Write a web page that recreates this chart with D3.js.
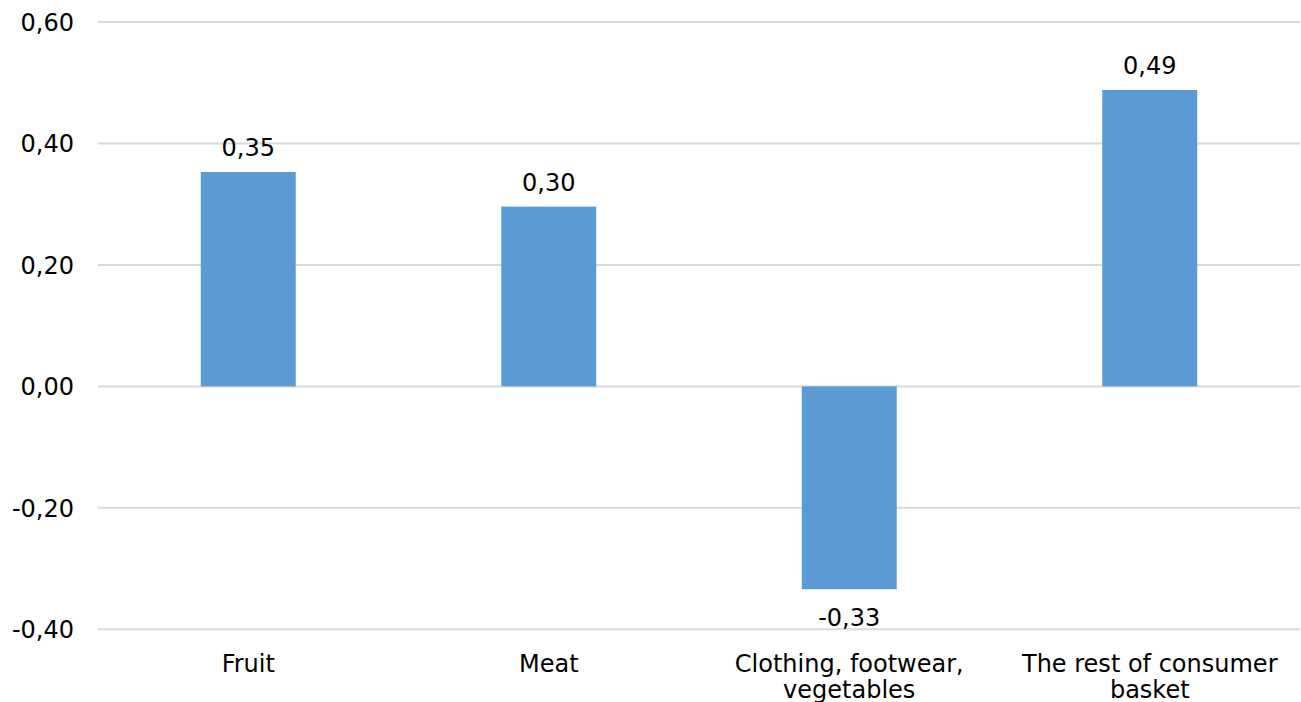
<!DOCTYPE html>
<html>
<head>
<meta charset="utf-8">
<script src="https://cdn.jsdelivr.net/npm/d3@7"></script>
<style>
  html, body { margin: 0; padding: 0; background: #fff; }
  svg { display: block; }
  text { font-family: "DejaVu Sans", Verdana, sans-serif; fill: #000; }
</style>
</head>
<body>
<svg id="chart" width="1301" height="702"></svg>
<script>
const categories = [["Fruit"], ["Meat"], ["Clothing, footwear,", "vegetables"], ["The rest of consumer", "basket"]];
const values = [0.353, 0.296, -0.334, 0.488];
const yTicks = [-0.4, -0.2, 0, 0.2, 0.4, 0.6];

(function () {
const mLeft = 98, mRight = 1300, mTop = 22, mBottom = 629.3;
const FS = 24;
const svg = d3.select("#chart");

const keys = categories.map((c, i) => i);
const x = d3.scaleBand().domain(keys).range([mLeft, mRight]).padding(0);
const y = d3.scaleLinear().domain([-0.4, 0.6]).range([mBottom, mTop]);
const fmt = v => d3.format(".2f")(v).replace(".", ",").replace("−", "-");

// gridlines
svg.append("g").selectAll("line").data(yTicks).join("line")
  .attr("x1", mLeft).attr("x2", mRight)
  .attr("y1", d => y(d)).attr("y2", d => y(d))
  .attr("stroke", "#d9d9d9").attr("stroke-width", 2);

// y axis labels
const yAxis = d3.axisLeft(y).tickValues(yTicks).tickSize(0).tickPadding(0).tickFormat(fmt);
const ya = svg.append("g").attr("transform", `translate(74,0)`).call(yAxis);
ya.select(".domain").remove();
ya.selectAll("text").attr("font-size", FS).attr("font-family", "DejaVu Sans, Verdana, sans-serif").attr("fill", "#000").attr("dy", "0.35em");

// bars
const bw = x.bandwidth() * 0.316;
svg.append("g").selectAll("rect").data(values).join("rect")
  .attr("x", (d, i) => x(i) + x.bandwidth() / 2 - bw / 2)
  .attr("width", bw)
  .attr("y", d => y(Math.max(0, d)))
  .attr("height", d => Math.abs(y(d) - y(0)))
  .attr("fill", "#5B9BD5");

// data labels
svg.append("g").selectAll("text").data(values).join("text")
  .attr("x", (d, i) => x(i) + x.bandwidth() / 2)
  .attr("y", d => d >= 0 ? y(d) - 16 : y(d) + 37)
  .attr("text-anchor", "middle")
  .attr("font-size", FS)
  .text(d => fmt(d));

// category labels
const cl = svg.append("g").selectAll("text").data(categories).join("text")
  .attr("text-anchor", "middle")
  .attr("font-size", FS);
cl.each(function(lines, i) {
  const t = d3.select(this);
  lines.forEach((ln, j) => {
    t.append("tspan")
      .attr("x", x(i) + x.bandwidth() / 2)
      .attr("y", 672 + j * 26)
      .text(ln);
  });
});
})();
</script>
</body>
</html>
